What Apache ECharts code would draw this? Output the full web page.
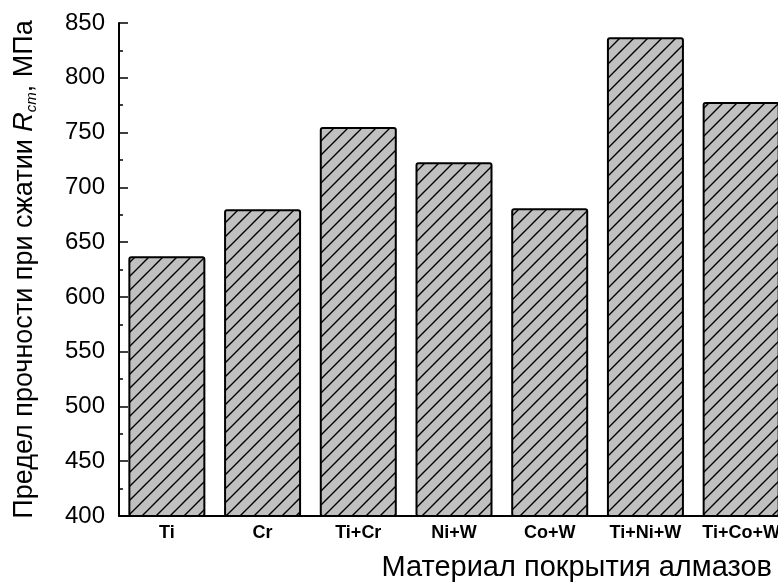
<!DOCTYPE html>
<html>
<head>
<meta charset="utf-8">
<script src="https://cdn.jsdelivr.net/npm/echarts@6/dist/echarts.min.js"></script>
<style>
  html, body { margin: 0; padding: 0; background: #fff; }
  #chart { width: 778px; height: 588px; }
</style>
</head>
<body>
<div id="chart"></div>
<script>
// data
var categories = ['Ti', 'Cr', 'Ti+Cr', 'Ni+W', 'Co+W', 'Ti+Ni+W', 'Ti+Co+W'];
var strength = [637, 680, 755, 723, 681, 837, 778];
var yTicks = [400, 450, 500, 550, 600, 650, 700, 750, 800, 850];

// hatch tile: grey with "/" lines
function hatch() {
  var s = 14;
  var c = document.createElement('canvas');
  c.width = s; c.height = s;
  var g = c.getContext('2d');
  g.fillStyle = '#c0c0c0';
  g.fillRect(0, 0, s, s);
  g.strokeStyle = '#000';
  g.lineWidth = 1.4;
  g.beginPath();
  g.moveTo(-2, s + 2); g.lineTo(s + 2, -2);
  g.moveTo(-2, 2); g.lineTo(2, -2);
  g.moveTo(s - 2, s + 2); g.lineTo(s + 2, s - 2);
  g.stroke();
  return c;
}

var chart = echarts.init(document.getElementById('chart'));
var font = 'Liberation Sans, Arial, sans-serif';

chart.setOption({
  animation: false,
  grid: { left: 119, top: 23, width: 670, height: 493, outerBoundsMode: 'none', containLabel: false },
  xAxis: [
    {
      type: 'category',
      data: categories,
      axisLine: { lineStyle: { color: '#000', width: 2 } },
      axisTick: { inside: true, length: 4, lineStyle: { color: '#000', width: 1.5 } },
      axisLabel: { interval: 0, hideOverlap: false, color: '#000', fontFamily: font, fontSize: 18, fontWeight: 'bold', margin: 8 },
      name: 'Материал покрытия алмазов',
      nameLocation: 'end',
      nameGap: 0,
      nameTextStyle: {
        color: '#000', fontFamily: font, fontSize: 29,
        align: 'right', verticalAlign: 'top', padding: [37, 17, 0, 0]
      }
    },
    {
      type: 'category',
      data: categories,
      position: 'bottom',
      axisLine: { show: false },
      axisTick: { inside: true, alignWithLabel: true, interval: 0, length: 9, lineStyle: { color: '#000', width: 1.5 } },
      axisLabel: { show: false }
    }
  ],
  yAxis: {
    type: 'value',
    min: yTicks[0],
    max: yTicks[yTicks.length - 1],
    interval: 50,
    axisLine: { show: true, lineStyle: { color: '#000', width: 2 } },
    axisTick: { show: true, inside: true, length: 9, lineStyle: { color: '#000', width: 1.5 } },
    minorTick: { show: true, splitNumber: 2, length: 4, lineStyle: { color: '#000', width: 1.5 } },
    splitLine: { show: false },
    axisLabel: { color: '#000', fontFamily: font, fontSize: 24, margin: 14 },
    name: '{n|Предел прочности при сжатии }{i|R}{s|cm}{n|, МПа}',
    nameLocation: 'middle',
    nameGap: 80,
    nameRotate: 90,
    nameTextStyle: {
      color: '#000',
      rich: {
        n: { fontFamily: font, fontSize: 27, color: '#000' },
        i: { fontFamily: font, fontSize: 27, fontStyle: 'italic', color: '#000' },
        s: { fontFamily: font, fontSize: 15, fontStyle: 'italic', color: '#000', verticalAlign: 'bottom', padding: [14, 0, 0, 0] }
      }
    }
  },
  series: [{
    type: 'bar',
    data: strength,
    barWidth: 77,
    itemStyle: {
      color: { image: hatch(), repeat: 'repeat' },
      borderColor: '#000',
      borderWidth: 2,
      borderRadius: 2
    }
  }]
});
</script>
</body>
</html>
